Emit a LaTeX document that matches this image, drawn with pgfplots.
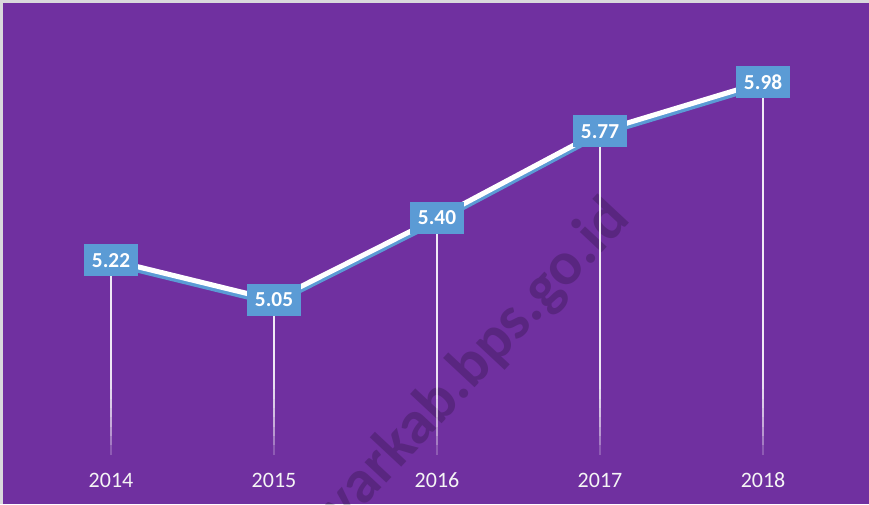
\documentclass[border=0pt]{standalone}
\usepackage{pgfplots}
\pgfplotsset{compat=1.18}
\usepackage{fontspec}
\setmainfont{Carlito}
\definecolor{bgpurple}{HTML}{7030A0}
\definecolor{boxblue}{HTML}{5B9BD5}
\definecolor{bordergray}{HTML}{D9D9DC}
\pgfplotsset{dropline/.style={draw=white, line width=1.5pt, draw opacity=0.21, forget plot, unbounded coords=jump}}
\begin{document}
\begin{tikzpicture}
\begin{axis}[
  scale only axis, width=651.75pt, height=378pt,
  xmin=-0.681, xmax=4.650, ymin=4.18, ymax=6.33,
  axis background/.style={fill=bgpurple},
  axis line style={draw=none},
  major tick length=0pt,
  ytick=\empty,
  xtick={0,1,2,3,4},
  xticklabels={2014,2015,2016,2017,2018},
  xticklabel style={anchor=base, yshift=12.75pt, text=white!96!black, font=\fontsize{16.5}{20}\selectfont},
  /pgf/number format/assume math mode=true,
]
\node[rotate=47, text=black, opacity=0.2, font=\bfseries\fontsize{46}{52}\selectfont] at (axis cs:2.24,4.78) {yarkab.bps.go.id};
% drop lines: stacked translucent strokes give a fade towards the bottom
\pgfplotsinvokeforeach{4.39,4.43,4.47,4.51,4.55,4.59,4.63,4.67,4.71,4.75}{
  \addplot[dropline] coordinates {(0,5.22) (0,#1) (0,nan) (1,5.05) (1,#1) (1,nan) (2,5.40) (2,#1) (2,nan) (3,5.77) (3,#1) (3,nan) (4,5.98) (4,#1)};
}
% shadow line
\addplot[boxblue, line width=3.8pt, yshift=-2.6pt, forget plot] coordinates {(0,5.22) (1,5.05) (2,5.40) (3,5.77) (4,5.98)};
% main line
\addplot[white, line width=3.8pt,
  nodes near coords={\pgfmathprintnumber[fixed,fixed zerofill,precision=2]{\pgfplotspointmeta}},
  every node near coord/.append style={anchor=center, fill=boxblue, text=white,
     font=\bfseries\fontsize{16}{19}\selectfont, inner xsep=6pt, inner ysep=0pt, minimum height=24pt},
] coordinates {(0,5.22) (1,5.05) (2,5.40) (3,5.77) (4,5.98)};
\end{axis}
\fill[bordergray] (current axis.north west) rectangle ([xshift=2.25pt]current axis.south west);
\fill[bordergray] (current axis.north west) rectangle ([yshift=-2.25pt]current axis.north east);
\pgfresetboundingbox
\path[use as bounding box] (current axis.south west) rectangle (current axis.north east);
\end{tikzpicture}
\end{document}
